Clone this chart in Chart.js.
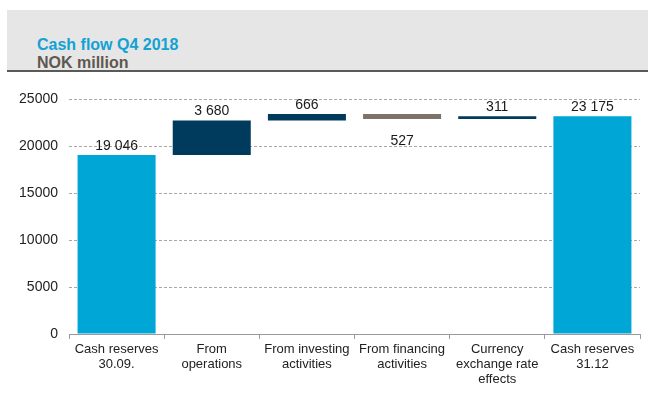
<!DOCTYPE html>
<html>
<head>
<meta charset="utf-8">
<script src="https://cdn.jsdelivr.net/npm/chart.js@4.4.1/dist/chart.umd.min.js"></script>
<style>
  body { margin: 0; background: #fff; font-family: "Liberation Sans", Arial, sans-serif; }
  #wrap { position: relative; width: 648px; height: 416px; overflow: hidden; }
  #chart { position: absolute; left: 0; top: 0; }
  .header {
    position: absolute; left: 7px; top: 10px; width: 641px; height: 60px;
    background: #e6e6e6; border-bottom: 2px solid #5a5a5a; z-index: 2;
  }
  .title { position: absolute; left: 30px; top: 26px; font-size: 16px; font-weight: bold; color: #12a2d3; line-height: 18px; }
  .subtitle { position: absolute; left: 30px; top: 44px; font-size: 16px; font-weight: bold; color: #5f5850; line-height: 18px; }
</style>
</head>
<body>
<div id="wrap">
  <div class="header">
    <div class="title">Cash flow Q4 2018</div>
    <div class="subtitle">NOK million</div>
  </div>
  <canvas id="chart" width="648" height="416"></canvas>
</div>
<script>
// Waterfall data, NOK million
const categories = [
  ['Cash reserves', '30.09.'],
  ['From', 'operations'],
  ['From investing', 'activities'],
  ['From financing', 'activities'],
  ['Currency', 'exchange rate', 'effects'],
  ['Cash reserves', '31.12']
];
const amounts = [19046, 3680, 666, -527, 311, 23175];
const isTotal = [true, false, false, false, false, true];
const valueLabels = ['19 046', '3 680', '666', '527', '311', '23 175'];
const yTickValues = [0, 5000, 10000, 15000, 20000, 25000];

const colors = {
  total: '#00a6d6',
  up: '#003a5d',
  down: '#7c7269'
};

// build floating ranges from the running total
let running = 0;
const ranges = amounts.map((v, i) => {
  if (isTotal[i]) {
    running = v;
    return [0, v];
  }
  const start = running;
  running += v;
  return [start, running];
});
const barColors = amounts.map((v, i) => isTotal[i] ? colors.total : (v >= 0 ? colors.up : colors.down));

// draw the value labels above (or below for negatives) each bar
const valueLabelPlugin = {
  id: 'valueLabels',
  afterDatasetsDraw(chart) {
    const ctx = chart.ctx;
    const meta = chart.getDatasetMeta(0);
    ctx.save();
    ctx.font = '14px "Liberation Sans", Arial, sans-serif';
    ctx.fillStyle = '#1a1a1a';
    ctx.textAlign = 'center';
    meta.data.forEach((bar, i) => {
      const top = Math.min(bar.y, bar.base);
      const bottom = Math.max(bar.y, bar.base);
      if (amounts[i] >= 0) {
        ctx.textBaseline = 'bottom';
        ctx.fillText(valueLabels[i], bar.x, top - 2);
      } else {
        ctx.textBaseline = 'top';
        ctx.fillText(valueLabels[i], bar.x, bottom + 15);
      }
    });
    ctx.restore();
  }
};

const ctx = document.getElementById('chart').getContext('2d');
new Chart(ctx, {
  type: 'bar',
  data: {
    labels: categories,
    datasets: [{
      data: ranges,
      backgroundColor: barColors,
      borderWidth: 0,
      borderSkipped: false,
      barPercentage: 0.82,
      categoryPercentage: 1
    }]
  },
  options: {
    responsive: false,
    animation: false,
    layout: { padding: { top: 99, right: 8, bottom: 0, left: 0 } },
    plugins: {
      legend: { display: false },
      tooltip: { enabled: false }
    },
    scales: {
      x: {
        grid: {
          display: true,
          offset: true,
          drawOnChartArea: false,
          drawTicks: true,
          tickLength: 5,
          color: '#9a9a9a'
        },
        border: { display: true, color: '#9a9a9a', width: 1 },
        ticks: {
          autoSkip: false,
          maxRotation: 0,
          padding: 3,
          color: '#222',
          font: { family: '"Liberation Sans", Arial, sans-serif', size: 13, lineHeight: 1.15 }
        },
        afterFit: (scale) => { scale.height = 82; }
      },
      y: {
        min: 0,
        max: 25000,
        afterBuildTicks: (scale) => { scale.ticks = yTickValues.map(v => ({ value: v })); },
        grid: {
          color: '#a8a8a8',
          drawTicks: false
        },
        border: { display: false, dash: [3, 2] },
        ticks: {
          padding: 11,
          color: '#222',
          font: { family: '"Liberation Sans", Arial, sans-serif', size: 14 },
          callback: (v) => String(v)
        },
        afterFit: (scale) => { scale.width = 69; }
      }
    }
  },
  plugins: [valueLabelPlugin]
});
</script>
</body>
</html>
